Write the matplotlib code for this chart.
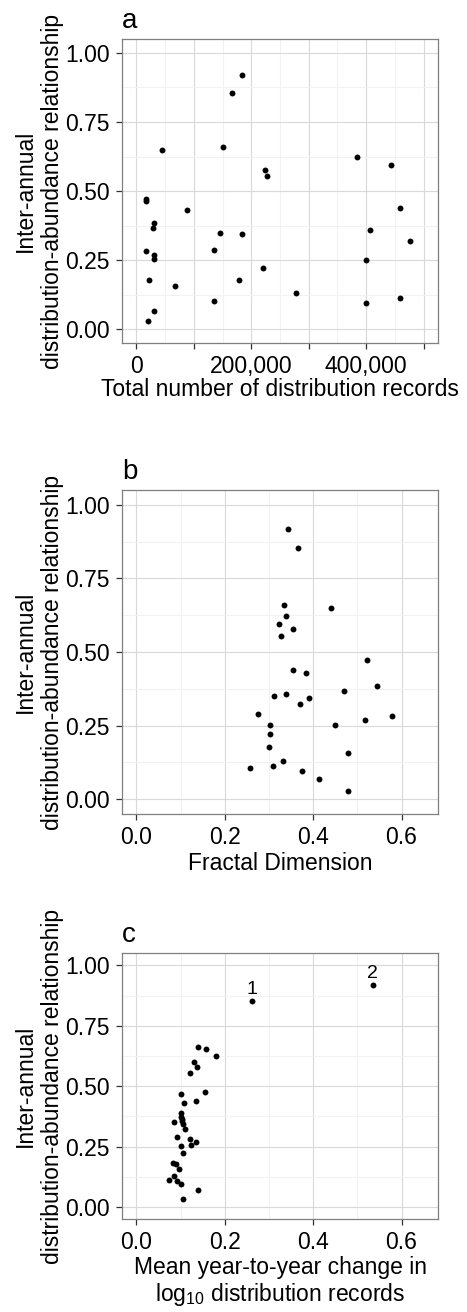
import numpy as np
import matplotlib.pyplot as plt
from matplotlib.ticker import FixedLocator, MultipleLocator

plt.rcParams['font.family'] = ['Liberation Sans', 'DejaVu Sans']
plt.rcParams['mathtext.default'] = 'regular'

# panel a: total number of distribution records
a_records = [183100, 165800, 44600, 150700, 223800, 226600, 384300, 443500, 17400, 17400,
             88100, 458600, 30700, 28400, 145000, 184300, 407500, 475400, 135700, 16800,
             30700, 31300, 399400, 220900, 22600, 67300, 178000, 135700, 278300, 400500,
             459700, 30700, 20900]
a_rel = [0.921, 0.854, 0.650, 0.661, 0.577, 0.553, 0.624, 0.596, 0.471, 0.466,
         0.431, 0.438, 0.386, 0.368, 0.350, 0.344, 0.359, 0.321, 0.289, 0.283,
         0.270, 0.253, 0.251, 0.222, 0.178, 0.158, 0.180, 0.104, 0.131, 0.095,
         0.112, 0.067, 0.029]

# panel b: fractal dimension
b_fd = [0.342, 0.366, 0.333, 0.441, 0.338, 0.323, 0.354, 0.328, 0.521, 0.354,
        0.384, 0.544, 0.469, 0.311, 0.338, 0.391, 0.371, 0.276, 0.578, 0.517,
        0.303, 0.449, 0.302, 0.300, 0.479, 0.258, 0.309, 0.331, 0.375, 0.414, 0.479]
b_rel = [0.919, 0.853, 0.660, 0.650, 0.622, 0.596, 0.577, 0.553, 0.474, 0.438,
         0.430, 0.385, 0.368, 0.350, 0.358, 0.343, 0.322, 0.289, 0.283, 0.269,
         0.252, 0.253, 0.222, 0.179, 0.158, 0.105, 0.112, 0.131, 0.095, 0.069, 0.029]

# panel c: mean year-to-year change in log10 records
c_change = [0.261, 0.535, 0.140, 0.157, 0.180, 0.131, 0.138, 0.121, 0.100, 0.156,
            0.134, 0.108, 0.100, 0.101, 0.103, 0.104, 0.106, 0.085, 0.111, 0.092,
            0.121, 0.134, 0.102, 0.123, 0.106, 0.082, 0.090, 0.096, 0.085, 0.073,
            0.092, 0.101, 0.140, 0.105]
c_rel = [0.854, 0.920, 0.661, 0.652, 0.623, 0.598, 0.578, 0.554, 0.468, 0.476,
         0.439, 0.432, 0.387, 0.374, 0.366, 0.357, 0.344, 0.351, 0.322, 0.290,
         0.283, 0.270, 0.251, 0.255, 0.223, 0.182, 0.178, 0.159, 0.130, 0.113,
         0.106, 0.096, 0.071, 0.031]
c_labels = ['1', '2']

ylab = 'Inter-annual\ndistribution-abundance relationship'
yticks = [0.0, 0.25, 0.5, 0.75, 1.0]
ytick_labels = ['0.00', '0.25', '0.50', '0.75', '1.00']

fig = plt.figure(figsize=(4.67, 13.12), dpi=100)
W, H = 467.0, 1312.0


def make_ax(top, bottom):
    return fig.add_axes([122 / W, 1 - bottom / H, 316 / W, (bottom - top) / H])


def style(ax, letter, xmajor, xminor, xlim):
    ax.set_xlim(xlim)
    ax.set_ylim(-0.05, 1.05)
    ax.xaxis.set_major_locator(FixedLocator(xmajor))
    ax.xaxis.set_minor_locator(FixedLocator(xminor))
    ax.set_yticks(yticks)
    ax.set_yticklabels(ytick_labels)
    ax.yaxis.set_minor_locator(FixedLocator([0.125, 0.375, 0.625, 0.875]))
    ax.grid(which='major', color='#d9d9d9', linewidth=0.8)
    ax.grid(which='minor', color='#f2f2f2', linewidth=0.8)
    ax.set_axisbelow(True)
    for s in ax.spines.values():
        s.set_color('#7f7f7f')
        s.set_linewidth(0.9)
    ax.tick_params(which='major', length=4.3, width=0.9, color='#333333',
                   labelsize=16.5, labelcolor='black', pad=4.3)
    ax.tick_params(which='minor', length=0)
    ax.set_ylabel(ylab, fontsize=16.5)
    ax.yaxis.set_label_coords(-0.185, 0.5)
    ax.set_title(letter, loc='left', fontsize=20, pad=8)


ax1 = make_ax(39, 343.3)
ax1.scatter(a_records, a_rel, s=18, color='black', linewidths=0, zorder=3)
style(ax1, 'a', [0, 100000, 200000, 300000, 400000, 500000],
      [50000, 150000, 250000, 350000, 450000], (-25000, 525000))
ax1.set_xticklabels(['0', '', '200,000', '', '400,000', ''])
ax1.set_xlabel('Total number of distribution records', fontsize=16.5, labelpad=0)

ax2 = make_ax(490, 814)
ax2.scatter(b_fd, b_rel, s=18, color='black', linewidths=0, zorder=3)
style(ax2, 'b', [0.0, 0.2, 0.4, 0.6], [0.1, 0.3, 0.5], (-0.0325, 0.6825))
ax2.set_xticklabels(['0.0', '0.2', '0.4', '0.6'])
ax2.set_xlabel('Fractal Dimension', fontsize=16.5, labelpad=2.5)

ax3 = make_ax(953.3, 1219)
ax3.scatter(c_change, c_rel, s=18, color='black', linewidths=0, zorder=3)
style(ax3, 'c', [0.0, 0.2, 0.4, 0.6], [0.1, 0.3, 0.5], (-0.0325, 0.6825))
ax3.set_xticklabels(['0.0', '0.2', '0.4', '0.6'])
ax3.set_xlabel('Mean year-to-year change in\nlog$_{10}$ distribution records',
               fontsize=16.5, labelpad=1.5, linespacing=1.1)
for i, lab in enumerate(c_labels):
    ax3.annotate(lab, (c_change[i], c_rel[i]), xytext=(0, 5), textcoords='offset points',
                 ha='center', va='baseline', fontsize=14)

fig.savefig('out.png', dpi=100)
